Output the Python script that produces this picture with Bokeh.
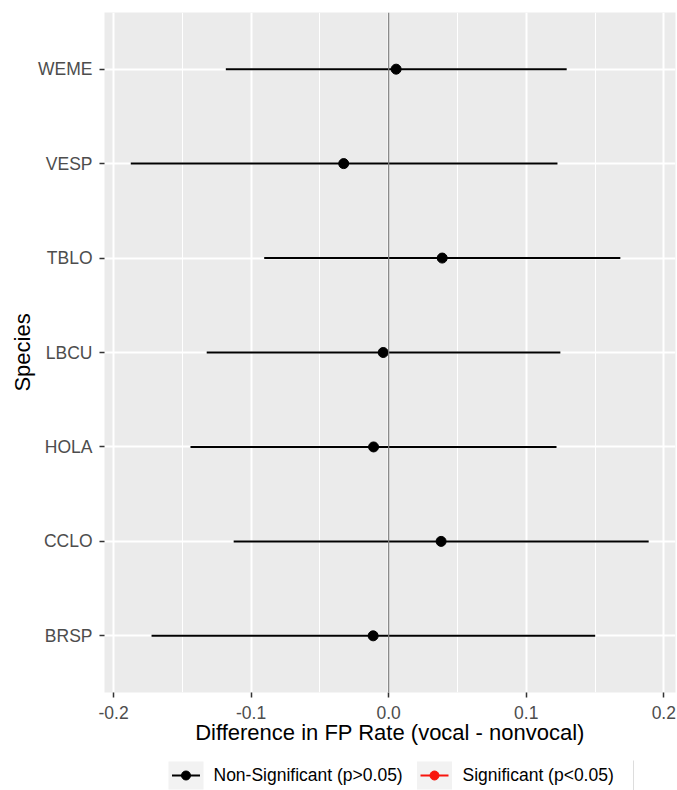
from bokeh.plotting import figure
from bokeh.models import Range1d, FixedTicker, NumeralTickFormatter, ColumnDataSource, Span
from bokeh.core.properties import value
from bokeh.layouts import column
from bokeh.embed import file_html
from bokeh.resources import INLINE

# ---- data (bottom to top) ----
species = ["BRSP", "CCLO", "HOLA", "LBCU", "TBLO", "VESP", "WEME"]
estimate = [-0.0113, 0.0381, -0.0110, -0.0040, 0.0389, -0.0327, 0.0054]
lower = [-0.1724, -0.1127, -0.1441, -0.1323, -0.0905, -0.1875, -0.1184]
upper = [0.1501, 0.1890, 0.1220, 0.1248, 0.1684, 0.1227, 0.1294]
significant = [False] * len(species)
x_ticks = [-0.2, -0.1, 0.0, 0.1, 0.2]
x_minor = [-0.15, -0.05, 0.05, 0.15]
legend_labels = ["Non-Significant (p>0.05)", "Significant (p<0.05)"]
legend_colors = ["black", "#F8150D"]

ypos = list(range(1, len(species) + 1))
ns = [i for i, s in enumerate(significant) if not s]
src_ns = ColumnDataSource(dict(y=[ypos[i] for i in ns], est=[estimate[i] for i in ns],
                               lo=[lower[i] for i in ns], hi=[upper[i] for i in ns]))
src_sig = ColumnDataSource(dict(y=[], est=[], lo=[], hi=[]))

FONT = "Liberation Sans"

p = figure(width=677, height=752, output_backend="svg", toolbar_location=None,
           x_range=Range1d(-0.2066, 0.2085), y_range=Range1d(0.4, len(species) + 0.6),
           min_border_left=104, min_border_right=2, min_border_top=12, min_border_bottom=60)
p.outline_line_color = None
p.background_fill_color = "#EBEBEB"
p.border_fill_color = "white"

# grids
p.xgrid.ticker = FixedTicker(ticks=x_ticks, minor_ticks=x_minor)
p.xgrid.grid_line_color = "white"
p.xgrid.grid_line_width = 2
p.xgrid.minor_grid_line_color = "white"
p.xgrid.minor_grid_line_width = 1
p.ygrid.ticker = FixedTicker(ticks=ypos)
p.ygrid.grid_line_color = "white"
p.ygrid.grid_line_width = 2

# axes
p.xaxis.ticker = FixedTicker(ticks=x_ticks, minor_ticks=x_minor)
p.xaxis.formatter = NumeralTickFormatter(format="0.0")
p.yaxis.ticker = FixedTicker(ticks=ypos)
p.yaxis.major_label_overrides = {y: s for y, s in zip(ypos, species)}
for ax in (p.xaxis[0], p.yaxis[0]):
    ax.axis_line_color = None
    ax.major_tick_line_color = "#333333"
    ax.major_tick_line_width = 1.5
    ax.major_tick_out = 5
    ax.major_tick_in = 0
    ax.minor_tick_line_color = None
    ax.major_label_text_font = FONT
    ax.major_label_text_font_size = "17.5px"
    ax.major_label_text_color = "#4D4D4D"
    ax.axis_label_text_font = FONT
    ax.axis_label_text_font_size = "22px"
    ax.axis_label_text_font_style = "normal"
    ax.axis_label_text_color = "black"
p.xaxis.axis_label = "Difference in FP Rate (vocal - nonvocal)"
p.yaxis.axis_label = "Species"
p.xaxis.major_label_standoff = 8
p.xaxis.axis_label_standoff = -2
p.yaxis.major_label_standoff = 7
p.yaxis.axis_label_standoff = 0

# error bars and points
p.segment(x0="lo", x1="hi", y0="y", y1="y", source=src_ns, line_color=legend_colors[0], line_width=2)
p.segment(x0="lo", x1="hi", y0="y", y1="y", source=src_sig, line_color=legend_colors[1], line_width=2)
p.add_layout(Span(location=0, dimension="height", line_color="#7F7F7F", line_width=1.2))
p.scatter(x="est", y="y", source=src_ns, size=10, color=legend_colors[0])
p.scatter(x="est", y="y", source=src_sig, size=10, color=legend_colors[1])

# ---- legend strip (pixel-like coordinates, y downward) ----
# its frame is aligned with the main plot's frame (page x 104..675)
leg = figure(width=677, height=38, output_backend="svg", toolbar_location=None,
             x_range=Range1d(104, 675), y_range=Range1d(790, 752),
             min_border_left=0, min_border_right=0, min_border_top=0, min_border_bottom=0)
leg.axis.visible = False
leg.grid.visible = False
leg.outline_line_color = None
leg.background_fill_color = "white"
leg.border_fill_color = "white"

key_x = [185.5, 434]
text_x = [213, 462]
key_y = [775, 775]
leg.rect(x=key_x, y=key_y, width=35, height=28, fill_color="#F2F2F2", line_color=None)
leg.segment(x0=[k - 14 for k in key_x], x1=[k + 14 for k in key_x], y0=key_y, y1=key_y,
            line_color=legend_colors, line_width=2)
leg.scatter(x=key_x, y=key_y, size=9, color=legend_colors)
leg.text(x=text_x, y=[774, 774], text=legend_labels, text_font=value(FONT),
         text_font_size="17.5px", text_color="black", text_baseline="middle", text_align="left")
leg.segment(x0=[633], x1=[633], y0=[760], y1=[790], line_color="#DDDDDD", line_width=1)

open("out.html", "w").write(file_html(column(p, leg, spacing=0), INLINE))
